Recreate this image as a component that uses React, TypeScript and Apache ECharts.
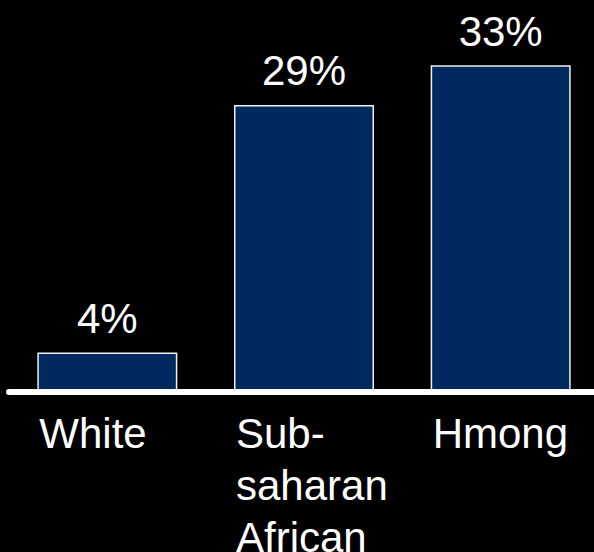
import React, { useEffect, useRef } from "react";
import * as echarts from "echarts";

const categories = ["White", "Sub-\nsaharan\nAfrican", "Hmong"];
const values = [4, 29, 33];
const valueLabels = ["4%", "29%", "33%"];

export default function App() {
  const ref = useRef<HTMLDivElement>(null);
  useEffect(() => {
    if (!ref.current) return;
    const chart = echarts.init(ref.current, null, { renderer: "svg" });
    const font = "'Liberation Sans', Arial, sans-serif";
    chart.setOption({
      animation: false,
      backgroundColor: "#000000",
      grid: {
        left: 9,
        right: -5,
        top: 45.5,
        bottom: 160,
        containLabel: false,
        outerBoundsMode: "none",
      },
      xAxis: {
        type: "category",
        data: categories,
        z: 10,
        axisLine: { show: true, lineStyle: { color: "#ffffff", width: 6 } },
        axisTick: { show: false },
        axisLabel: {
          interval: 0,
          color: "#ffffff",
          fontFamily: font,
          fontSize: 42,
          lineHeight: 52,
          align: "left",
          padding: [0, 0, 0, -68],
          margin: 15,
        },
      },
      yAxis: {
        type: "value",
        min: 0,
        max: 35,
        show: false,
        splitLine: { show: false },
      },
      series: [
        {
          type: "bar",
          data: values,
          barWidth: 140,
          itemStyle: { color: "#002960", borderColor: "#f0f0f0", borderWidth: 1.5 },
          label: {
            show: true,
            position: "top",
            distance: 13,
            color: "#ffffff",
            fontFamily: font,
            fontSize: 42,
            formatter: (p: any) => valueLabels[p.dataIndex],
          },
        },
      ],
    });
    return () => chart.dispose();
  }, []);
  return (
    <div
      ref={ref}
      style={{ position: "absolute", left: 0, top: 0, width: 594, height: 552 }}
    />
  );
}
